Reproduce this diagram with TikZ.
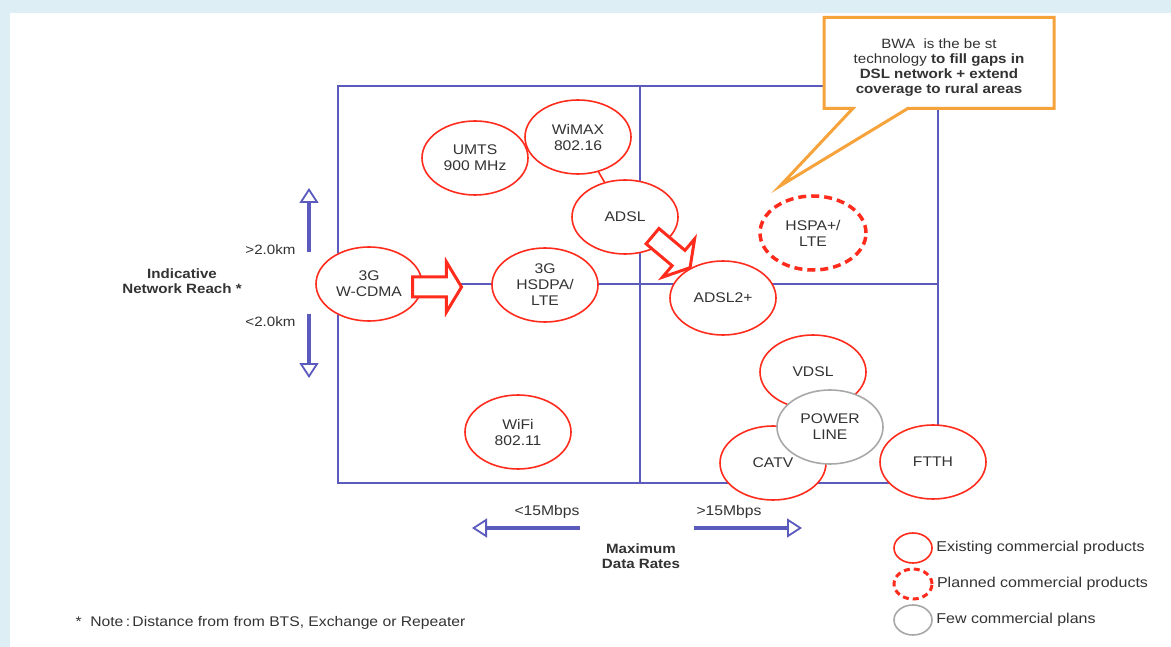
\documentclass[tikz,border=0pt]{standalone}
\usepackage{fontspec}
\setmainfont{Liberation Sans}[FakeStretch=1.12]
\usetikzlibrary{shapes.geometric,shapes.arrows,shapes.callouts,arrows.meta}

\definecolor{slideblue}{HTML}{DDEEF4}
\definecolor{gridblue}{HTML}{5B5BBE}
\definecolor{prodred}{HTML}{FF2B1C}
\definecolor{plangray}{HTML}{A8A8A8}
\definecolor{bwaorange}{HTML}{F7A33B}
\definecolor{inkgray}{HTML}{333333}

\tikzset{
  tech/.style={ellipse, draw=prodred, line width=1.6pt, fill=white,
    minimum width=106pt, minimum height=74pt, inner sep=0pt, align=center,
    text=inkgray, font=\fontsize{14}{16}\selectfont},
  planned/.style={tech, line width=3.5pt, dash pattern=on 8pt off 5pt},
  fewplans/.style={tech, draw=plangray},
  keybox/.style={minimum width=38pt, minimum height=30pt},
  moveto/.style={single arrow, draw=prodred, line width=3pt, fill=white,
    minimum height=49pt, inner xsep=0pt, inner ysep=8.5pt,
    single arrow head extend=15pt, single arrow tip angle=118},
  gridline/.style={draw=gridblue, line width=1.8pt},
  reach/.style={draw=gridblue, line width=4.5pt,
    -{Triangle[fill=white, length=15pt, width=19pt, line width=1.8pt]}},
  small/.style={text=inkgray, font=\fontsize{13.5}{15}\selectfont},
  keytext/.style={small, anchor=west, font=\fontsize{14.3}{15}\selectfont},
  axislabel/.style={text=inkgray, align=center, font=\fontsize{13.5}{14.5}\selectfont\bfseries}
}

\begin{document}
\begin{tikzpicture}[x=1pt, y=-1pt]
  % slide background
  \fill[slideblue] (0,0) rectangle (1171,647);
  \fill[white] (10,13) rectangle (1171,647);
  \useasboundingbox (0,0) rectangle (1171,647);

  % quadrant grid
  \draw[gridline] (338,86) rectangle (938,483);
  \draw[gridline] (640,86) -- (640,483);
  \draw[gridline] (338,284) -- (938,284);

  % vertical axis: network reach
  \coordinate (upfrom) at (309,252);
  \coordinate (upto) at (309,188);
  \coordinate (downfrom) at (309,314);
  \coordinate (downto) at (309,378);
  \draw[reach] (upfrom) -- (upto);
  \draw[reach] (downfrom) -- (downto);
  \node[small, anchor=east] (far) at (299,250) {>2.0km};
  \node[small, anchor=east] (near) at (299,322) {<2.0km};
  \node[axislabel] (reachlabel) at (182,281) {Indicative\\Network Reach *};

  % horizontal axis: data rates
  \coordinate (leftfrom) at (580,528);
  \coordinate (leftto) at (472,528);
  \coordinate (rightfrom) at (694,528);
  \coordinate (rightto) at (802,528);
  \draw[reach] (leftfrom) -- (leftto);
  \draw[reach] (rightfrom) -- (rightto);
  \node[small, font=\fontsize{14}{15}\selectfont] (slow) at (547,512) {<15Mbps};
  \node[small, font=\fontsize{14}{15}\selectfont] (fast) at (729,512) {>15Mbps};
  \node[axislabel] (ratelabel) at (641,556) {Maximum\\Data Rates};

  % technologies
  \node[tech] (umts) at (475,158) {UMTS\\900 MHz};
  \node[tech] (wimax) at (578,137) {WiMAX\\802.16};
  \node[tech] (adsl) at (625,217) {ADSL};
  \draw[prodred, line width=1.6pt] (wimax) -- (adsl);
  \node[tech] (wcdma) at (369,284) {3G\\W-CDMA};
  \node[tech] (hsdpa) at (545,285) {3G\\HSDPA/\\LTE};
  \node[tech] (adslplus) at (723,298) {ADSL2+};
  \node[planned] (hspa) at (813,233) {HSPA+/\\LTE};
  \node[tech] (wifi) at (518,432) {WiFi\\802.11};
  \node[tech] (vdsl) at (813,372) {VDSL};
  \node[tech] (catv) at (773,463) {CATV};
  \node[fewplans] (powerline) at (830,427) {POWER\\LINE};
  \node[tech] (ftth) at (933,462) {FTTH};

  % migration arrows
  \node[moveto] (wcdmamove) at (434,287) {};
  \node[moveto, rotate=-40] (adslmove) at (669,250) {};

  % BWA callout
  \coordinate (bwatip) at (780,186);
  \node[rectangle callout, draw=bwaorange, line width=3pt, fill=white,
    minimum width=230pt, minimum height=91pt, inner sep=0pt,
    callout absolute pointer={(bwatip)}, callout pointer width=55pt,
    align=center, text=inkgray, font=\fontsize{13.5}{15}\selectfont] (bwa) at (939,63)
    {\rule{0pt}{18pt}BWA~ is the be st\\technology \textbf{to fill gaps in}\\
     \textbf{DSL network + extend}\\\textbf{coverage to rural areas}};

  % legend
  \node[tech, keybox] (keyexist) at (913,548) {};
  \node[planned, keybox, line width=3pt, dash pattern=on 6pt off 4pt] (keyplan) at (913,584) {};
  \node[fewplans, keybox] (keyfew) at (913,620) {};
  \node[keytext] at (keyexist.east) {Existing commercial products};
  \node[keytext] at (keyplan.east) {Planned commercial products};
  \node[keytext] at (keyfew.east) {Few commercial plans};

  % footnote
  \node[small, anchor=west, font=\fontsize{14}{15}\selectfont] (note) at (72,623) {*~ Note\,:\,Distance from from BTS, Exchange or Repeater};
\end{tikzpicture}
\end{document}
